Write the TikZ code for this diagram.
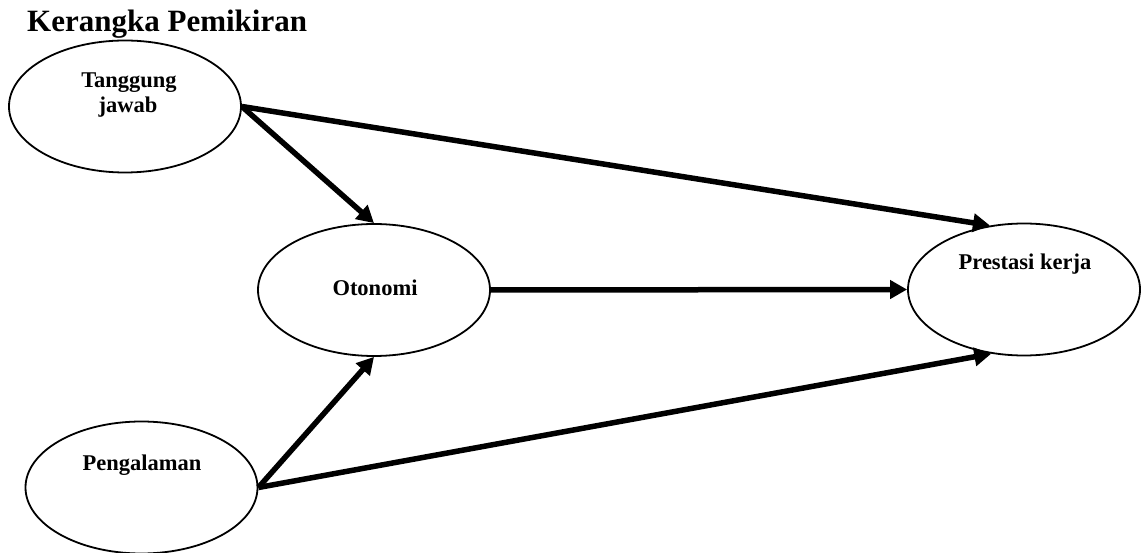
\documentclass[tikz,border=0pt]{standalone}
\usepackage{fontspec}
\setmainfont{Liberation Serif}
\usetikzlibrary{arrows.meta,shapes.geometric}
\begin{document}
\begin{tikzpicture}[x=1pt,y=-1pt,
  oval/.style={draw=black,line width=1.8pt,ellipse,minimum width=232pt,minimum height=132pt,inner sep=0pt},
  lbl/.style={font=\fontsize{22.5}{25}\selectfont\bfseries,anchor=base,inner sep=0pt},
  conn/.style={line width=5.5pt,-{Triangle[length=17pt,width=18pt]}}]
\useasboundingbox (0,0) rectangle (1141,553);
\node[font=\fontsize{31}{34}\selectfont\bfseries,anchor=base west,inner sep=0pt] (title) at (27,32) {Kerangka Pemikiran};
\node[oval] (tj) at (125,106.5) {};
\node[oval] (ot) at (374,290) {};
\node[oval] (pk) at (1024,289.5) {};
\node[oval] (pg) at (141.5,487.5) {};
\node[lbl] (tj1) at (129,87.3) {Tanggung};
\node[lbl] (tj2) at (128,112.5) {jawab};
\node[lbl] (otl) at (375,296) {Otonomi};
\node[lbl] (pkl) at (1025,270) {Prestasi kerja};
\node[lbl] (pgl) at (142,470.7) {Pengalaman};
\draw[conn] (tj.east) -- (ot.north);
\draw[conn] (tj.east) -- (pk.118);
\draw[conn] (ot.east) -- (pk.west);
\draw[conn] (pg.east) -- (ot.south);
\draw[conn] (pg.east) -- (pk.243);
\end{tikzpicture}
\end{document}
